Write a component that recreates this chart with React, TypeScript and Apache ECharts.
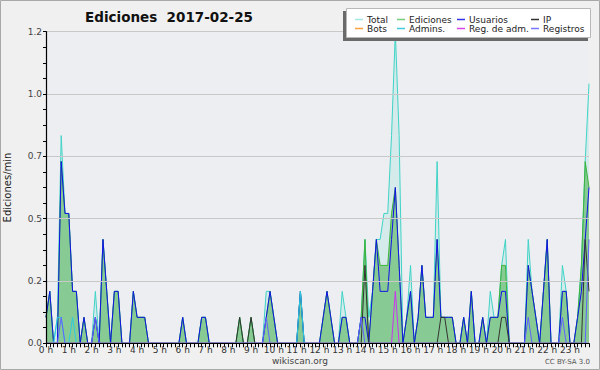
import React, { useEffect, useRef } from "react";
import * as echarts from "echarts";

const hourLabels = ["0 h","1 h","2 h","3 h","4 h","5 h","6 h","7 h","8 h","9 h","10 h","11 h","12 h","13 h","14 h","15 h","16 h","17 h","18 h","19 h","20 h","21 h","22 h","23 h"];
const slotsPerHour = 6;
const yTicks = [0, 0.24, 0.48, 0.72, 0.96, 1.2];

const seriesNames = ["Total","Ediciones","Usuarios","IP","Bots","Admins.","Reg. de adm.","Registros"];

// one row per hour, 6 ten-minute slots each
const total = [
  0.1,0.2,0,0.1,0.8,0.5,
  0.5,0.2,0.2,0,0.1,0,
  0,0.2,0,0.4,0.2,0,
  0.2,0.2,0,0,0,0.2,
  0.1,0.1,0.1,0,0,0,
  0,0,0,0,0,0,
  0.1,0,0,0,0,0.1,
  0.1,0,0,0,0,0,
  0,0,0,0.1,0,0,
  0.1,0,0,0,0.2,0.2,
  0.1,0,0,0,0,0,
  0,0.2,0,0,0,0,
  0,0.1,0.2,0.1,0,0,
  0.2,0.1,0,0,0,0.1,
  0.4,0.1,0.2,0.4,0.4,0.5,
  0.5,0.8,1.2,0.8,0,0.1,
  0.3,0,0.1,0.3,0.1,0.1,
  0.1,0.7,0.1,0.1,0.1,0.1,
  0,0,0.1,0,0.2,0,
  0,0.1,0,0.2,0.1,0.1,
  0.3,0.4,0,0,0,0,
  0,0.4,0.2,0.1,0,0.2,
  0.4,0,0,0,0.3,0.2,
  0,0,0.1,0.3,0.7,1.0,
];
const ediciones = [
  0.1,0.2,0,0,0.7,0.5,
  0.5,0.2,0.2,0,0.1,0,
  0,0.1,0,0.4,0.2,0,
  0.2,0.2,0,0,0,0.2,
  0.1,0.1,0.1,0,0,0,
  0,0,0,0,0,0,
  0.1,0,0,0,0,0.1,
  0.1,0,0,0,0,0,
  0,0,0,0.1,0,0,
  0.1,0,0,0,0.1,0.2,
  0.1,0,0,0,0,0,
  0,0.2,0,0,0,0,
  0,0.1,0.2,0.1,0,0,
  0.1,0.1,0,0,0,0.1,
  0.4,0,0.2,0.4,0.3,0.3,
  0.3,0.5,0.6,0.3,0,0.1,
  0.2,0,0.1,0.3,0.1,0.1,
  0.1,0.4,0.1,0.1,0.1,0.1,
  0,0,0.1,0,0.2,0,
  0,0.1,0,0.1,0.1,0.1,
  0.3,0.3,0,0,0,0,
  0,0.3,0.2,0.1,0,0.2,
  0.4,0,0,0,0.2,0.2,
  0,0,0.1,0.3,0.7,0.6,
];
const usuarios = [
  0.1,0.2,0,0,0.7,0.5,
  0.5,0.2,0.2,0,0.1,0,
  0,0.1,0,0.4,0.2,0,
  0.2,0.2,0,0,0,0.2,
  0.1,0.1,0.1,0,0,0,
  0,0,0,0,0,0,
  0.1,0,0,0,0,0.1,
  0.1,0,0,0,0,0,
  0,0,0,0,0,0,
  0,0,0,0,0.1,0.2,
  0.1,0,0,0,0,0,
  0,0.2,0,0,0,0,
  0,0.1,0.2,0.1,0,0,
  0.1,0.1,0,0,0,0.1,
  0.1,0,0.2,0.4,0.2,0.2,
  0.2,0.4,0.6,0.3,0,0.1,
  0.2,0,0.1,0.3,0.1,0.1,
  0.1,0.4,0.1,0.1,0.1,0.1,
  0,0,0.1,0,0.2,0,
  0,0.1,0,0.1,0.1,0.1,
  0.2,0.2,0,0,0,0,
  0,0.3,0.2,0.1,0,0.2,
  0.4,0,0,0,0.2,0.2,
  0,0,0.1,0.2,0.4,0.6,
];
const ip = [
  0,0,0,0,0,0, 0,0,0,0,0,0, 0,0,0,0,0,0, 0,0,0,0,0,0,
  0,0,0,0,0,0, 0,0,0,0,0,0, 0,0,0,0,0,0, 0,0,0,0,0,0,
  0,0,0,0.1,0,0, 0.1,0,0,0,0,0, 0,0,0,0,0,0, 0,0,0,0,0,0,
  0,0,0,0,0,0, 0,0,0,0,0,0, 0.3,0,0,0,0,0, 0,0,0,0,0,0,
  0,0,0,0,0,0, 0,0,0.1,0.1,0,0, 0,0,0,0,0,0, 0,0,0,0,0,0,
  0.1,0.1,0,0,0,0, 0,0,0,0,0,0, 0,0,0,0,0,0, 0,0,0,0,0.4,0.2,
];
const bots = [
  0,0,0,0,0,0, 0,0,0,0,0,0, 0,0,0,0,0,0, 0,0,0,0,0,0,
  0,0,0,0,0,0, 0,0,0,0,0,0, 0,0,0,0,0,0, 0,0,0,0,0,0,
  0,0,0,0,0,0, 0,0,0,0,0,0, 0,0,0,0,0,0, 0,0,0,0,0,0,
  0,0,0,0,0,0, 0,0,0,0,0,0, 0,0,0,0,0,0, 0,0,0,0,0,0,
  0,0,0,0,0,0, 0,0,0,0,0,0, 0,0,0,0,0,0, 0,0,0,0,0,0,
  0,0,0,0,0,0, 0,0,0,0,0,0, 0,0,0,0,0,0, 0,0,0,0,0,0,
];
const admins = [
  0,0,0,0.1,0.1,0, 0,0.1,0,0,0,0, 0,0,0,0,0,0, 0,0,0,0,0,0,
  0,0,0,0,0,0, 0,0,0,0,0,0, 0,0,0,0,0,0, 0,0,0,0,0,0,
  0,0,0,0,0,0, 0,0,0,0,0,0, 0,0,0,0,0,0, 0,0.2,0,0,0,0,
  0,0,0,0,0,0, 0,0,0,0,0,0, 0,0,0,0,0,0, 0,0,0,0,0,0,
  0,0,0,0,0,0, 0,0,0,0,0,0, 0,0,0,0,0,0, 0,0,0,0,0,0,
  0,0,0,0,0,0, 0,0,0,0,0,0, 0,0,0,0,0,0, 0,0,0,0,0,0,
];
const regAdm = [
  0,0,0,0,0,0, 0,0,0,0,0,0, 0,0,0,0,0,0, 0,0,0,0,0,0,
  0,0,0,0,0,0, 0,0,0,0,0,0, 0,0,0,0,0,0, 0,0,0,0,0,0,
  0,0,0,0,0,0, 0,0,0,0,0,0, 0,0,0,0,0,0, 0,0,0,0,0,0,
  0,0,0,0,0,0, 0,0,0,0,0,0, 0,0,0,0,0,0, 0,0,0.2,0,0,0,
  0,0,0,0,0,0, 0,0,0,0,0,0, 0,0,0,0,0,0, 0,0,0,0,0,0,
  0,0,0,0,0,0, 0,0,0,0,0,0, 0,0,0,0,0,0, 0,0,0,0,0,0,
];
const registros = [
  0,0,0,0,0.1,0, 0,0,0,0,0,0, 0,0.1,0,0,0,0, 0,0,0,0,0,0,
  0,0,0,0,0,0, 0,0,0,0,0,0, 0,0,0,0,0,0, 0,0,0,0,0,0,
  0,0,0,0,0,0, 0,0,0,0,0.1,0, 0,0,0,0,0,0, 0,0,0,0,0,0,
  0,0,0,0,0,0, 0,0,0,0,0,0.1, 0,0,0,0,0,0, 0,0,0,0,0,0,
  0,0,0,0,0,0, 0,0,0,0,0,0, 0,0,0,0,0,0, 0,0,0,0,0,0,
  0,0,0,0,0,0, 0,0.1,0,0,0,0, 0,0,0,0,0.1,0, 0,0,0,0,0,0.4,
];

const seriesData = [total, ediciones, usuarios, ip, bots, admins, regAdm, registros];
const lineColors = ["#3fd3c6", "#3cb43c", "#1212e8", "#333333", "#ff9a2e", "#2ccbe0", "#cc33ee", "#6262ff"];
const legendColors = ["#a6e6e2", "#77cc77", "#3333ee", "#333333", "#ffa040", "#44ccdd", "#dd44ee", "#7777ff"];

const categories: string[] = [];
for (let h = 0; h < hourLabels.length; h++) {
  for (let s = 0; s < slotsPerHour; s++) categories.push(hourLabels[h] + " " + s);
}

export default function App() {
  const ref = useRef<HTMLDivElement>(null);
  useEffect(() => {
    const chart = echarts.init(ref.current!, null, { renderer: "svg" });
    const font = "DejaVu Sans";
    const series: any[] = seriesNames.map((name, k) => {
      const s: any = {
        name,
        type: "line",
        data: seriesData[k],
        symbol: "none",
        showSymbol: false,
        lineStyle: { width: 1, color: lineColors[k] },
        itemStyle: { color: lineColors[k] },
        z: 2 + k,
      };
      if (k === 0) s.areaStyle = { color: "rgba(63,211,198,0.13)", opacity: 1 };
      if (k === 1) s.areaStyle = { color: "rgba(60,170,60,0.5)", opacity: 1 };
      return s;
    });
    const legendCols = [
      { left: 355, items: [0, 4] },
      { left: 397, items: [1, 5] },
      { left: 457, items: [2, 6] },
      { left: 531, items: [3, 7] },
    ];
    chart.setOption({
      animation: false,
      backgroundColor: "#f0f0f0",
      textStyle: { fontFamily: font },
      title: {
        text: "Ediciones  2017-02-25",
        left: 85,
        top: 10,
        padding: 0,
        textStyle: { fontSize: 13.5, fontWeight: "bold", color: "#111", fontFamily: font },
      },
      legend: legendCols.map((c) => ({
        orient: "vertical",
        align: "left",
        left: c.left,
        top: 15,
        padding: 0,
        itemGap: 0,
        itemWidth: 8,
        itemHeight: 1.5,
        icon: "rect",
        selectedMode: false,
        z: 20,
        textStyle: { fontSize: 9, lineHeight: 9, color: "#222", fontFamily: font, padding: [0, 0, 0, -1] },
        data: c.items.map((i) => ({ name: seriesNames[i], itemStyle: { color: legendColors[i] } })),
      })),
      grid: {
        left: 46,
        right: 11,
        top: 31.7,
        bottom: 26.7,
        show: true,
        backgroundColor: "#eceef1",
        borderWidth: 0,
        containLabel: false,
        outerBoundsMode: "none",
      },
      xAxis: {
        type: "category",
        data: categories,
        boundaryGap: false,
        z: 10,
        axisLine: { lineStyle: { color: "#000", width: 1.2 } },
        axisTick: { show: true, interval: 0, length: 4, lineStyle: { color: "#000" } },
        axisLabel: {
          interval: slotsPerHour - 1,
          margin: 2,
          fontSize: 9,
          color: "#333",
          fontFamily: font,
          formatter: (_v: string, idx: number) => hourLabels[Math.floor(idx / slotsPerHour)],
        },
        splitLine: { show: false },
      },
      yAxis: {
        type: "value",
        min: yTicks[0],
        max: yTicks[yTicks.length - 1],
        interval: yTicks[1] - yTicks[0],
        z: 10,
        name: "Ediciones/min",
        nameLocation: "middle",
        nameRotate: 90,
        nameGap: 34,
        nameTextStyle: { fontSize: 10, color: "#222", fontFamily: font },
        axisLine: { show: true, lineStyle: { color: "#000", width: 1.2 } },
        axisTick: { show: true, length: 3, lineStyle: { color: "#000" } },
        minorTick: { show: true, splitNumber: 4, length: 3, lineStyle: { color: "#000" } },
        axisLabel: {
          margin: 4,
          fontSize: 9,
          color: "#444",
          fontFamily: font,
          formatter: (v: number) => v.toFixed(1),
        },
        splitLine: { show: true, lineStyle: { color: "#c8c8c8", width: 1 } },
      },
      graphic: [
        { type: "rect", z: 0, silent: true, shape: { x: 0.5, y: 0.5, width: 599, height: 369 }, style: { fill: "none", stroke: "#a8a8a8", lineWidth: 1 } },
        { type: "rect", z: 15, silent: true, shape: { x: 343, y: 11, width: 245, height: 30 }, style: { fill: "#6a6a6a" } },
        { type: "rect", z: 16, silent: true, shape: { x: 346.5, y: 8.5, width: 244, height: 29 }, style: { fill: "#ffffff", stroke: "#b8b8b8", lineWidth: 1 } },
        { type: "text", z: 16, silent: true, style: { text: "wikiscan.org", x: 300, y: 361, align: "center", verticalAlign: "middle", fontSize: 9, fill: "#444", fontFamily: font } },
        { type: "text", z: 16, silent: true, style: { text: "CC BY-SA 3.0", x: 590, y: 362, align: "right", verticalAlign: "middle", fontSize: 7, fill: "#555", fontFamily: font } },
      ],
      series,
    });
    return () => chart.dispose();
  }, []);
  return <div ref={ref} style={{ position: "absolute", left: 0, top: 0, width: 600, height: 370 }} />;
}
